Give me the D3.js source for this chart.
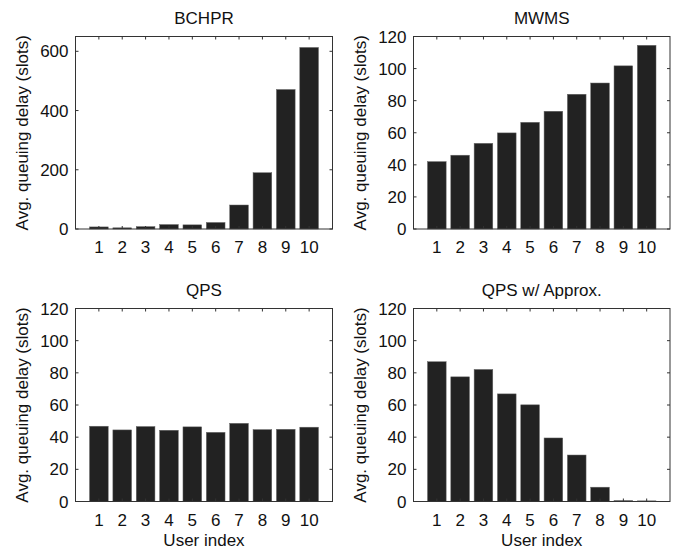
<!DOCTYPE html>
<html>
<head>
<meta charset="utf-8">
<script src="https://cdn.jsdelivr.net/npm/d3@7"></script>
<style>
  body { margin: 0; background: #fff; }
  svg text { font-family: "Liberation Sans", Arial, sans-serif; font-size: 17px; fill: #111; }
</style>
</head>
<body>
<div id="chart"></div>
<script>
// data
const users = [1, 2, 3, 4, 5, 6, 7, 8, 9, 10];
const bchpr = [7, 4, 8, 15, 14, 22, 81, 190, 471, 613];
const mwms = [42, 46, 53.4, 59.9, 66.5, 73.4, 84, 91, 101.7, 114.5];
const qps = [46.8, 44.5, 46.6, 44.3, 46.4, 43, 48.6, 44.7, 44.9, 46.2];
const qpsApprox = [86.9, 77.5, 82.1, 66.9, 60.1, 39.5, 28.9, 8.9, 0.6, 0.4];

const bchprTicks = [0, 200, 400, 600];
const otherTicks = [0, 20, 40, 60, 80, 100, 120];

const width = 681, height = 550;

var svg = d3.select("#chart")
  .append("svg")
  .attr("width", width)
  .attr("height", height);

function drawPanel(p) {
  var x = d3.scaleLinear().domain([0, 11]).range([p.left, p.right]);
  var y = d3.scaleLinear().domain([0, p.ymax]).range([p.bottom, p.top]);
  var bw = (x(1) - x(0)) * 0.8;
  var g = svg.append("g");

  // bars
  g.selectAll("rect")
    .data(p.values)
    .enter()
    .append("rect")
      .attr("x", (d, i) => x(users[i]) - bw / 2)
      .attr("y", d => y(d))
      .attr("width", bw)
      .attr("height", d => p.bottom - y(d))
      .attr("fill", "#222")
      .attr("stroke", "#666")
      .attr("stroke-width", 0.5);

  // box
  g.append("rect")
    .attr("x", p.left).attr("y", p.top)
    .attr("width", p.right - p.left).attr("height", p.bottom - p.top)
    .attr("fill", "none").attr("stroke", "#333").attr("stroke-width", 1);

  var tl = 3;
  // y ticks (both sides, inward)
  p.ticks.forEach(function(t) {
    g.append("line").attr("x1", p.left).attr("x2", p.left + tl)
      .attr("y1", y(t)).attr("y2", y(t)).attr("stroke", "#333");
    g.append("line").attr("x1", p.right).attr("x2", p.right - tl)
      .attr("y1", y(t)).attr("y2", y(t)).attr("stroke", "#333");
    g.append("text")
      .attr("x", p.left - 7).attr("y", y(t)).attr("dy", "0.36em")
      .attr("text-anchor", "end").text(t);
  });
  // x ticks (both sides, inward)
  users.forEach(function(u) {
    g.append("line").attr("x1", x(u)).attr("x2", x(u))
      .attr("y1", p.bottom).attr("y2", p.bottom - tl).attr("stroke", "#333");
    g.append("line").attr("x1", x(u)).attr("x2", x(u))
      .attr("y1", p.top).attr("y2", p.top + tl).attr("stroke", "#333");
    g.append("text")
      .attr("x", x(u)).attr("y", p.bottom + 24)
      .attr("text-anchor", "middle").text(u);
  });

  // title
  g.append("text")
    .attr("x", (p.left + p.right) / 2).attr("y", p.top - 13)
    .attr("text-anchor", "middle").text(p.title);

  // y label
  g.append("text")
    .attr("transform", "translate(" + (p.left - 48) + "," + ((p.top + p.bottom) / 2) + ") rotate(-90)")
    .attr("text-anchor", "middle")
    .text("Avg. queuing delay (slots)");

  if (p.xlabel) {
    g.append("text")
      .attr("x", (p.left + p.right) / 2).attr("y", p.bottom + 44)
      .attr("text-anchor", "middle").text("User index");
  }
}

drawPanel({ title: "BCHPR", values: bchpr, ymax: 650, ticks: bchprTicks,
  left: 75.5, right: 332.5, top: 36.5, bottom: 229, xlabel: false });
drawPanel({ title: "MWMS", values: mwms, ymax: 120, ticks: otherTicks,
  left: 413.5, right: 670, top: 36.5, bottom: 229, xlabel: false });
drawPanel({ title: "QPS", values: qps, ymax: 120, ticks: otherTicks,
  left: 75.5, right: 332.5, top: 308.5, bottom: 501.5, xlabel: true });
drawPanel({ title: "QPS w/ Approx.", values: qpsApprox, ymax: 120, ticks: otherTicks,
  left: 413.5, right: 670, top: 308.5, bottom: 501.5, xlabel: true });
</script>
</body>
</html>
